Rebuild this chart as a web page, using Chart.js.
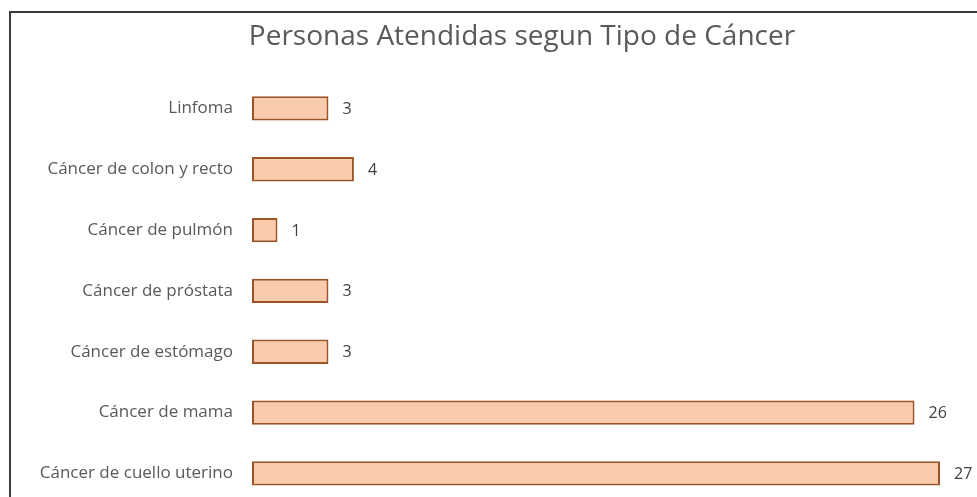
<!DOCTYPE html>
<html>
<head>
<meta charset="utf-8">
<script src="https://cdn.jsdelivr.net/npm/chart.js@4"></script>
<style>
  html, body { margin: 0; padding: 0; background: #fff; overflow: hidden; }
  #frame {
    position: absolute; left: 9px; top: 11px; width: 1000px; height: 600px;
    border-top: 2px solid #3a3a3a; border-left: 2px solid #3a3a3a;
  }
  #barChart { position: absolute; left: 0; top: 0; }
</style>
</head>
<body>
<div id="frame"></div>
<canvas id="barChart" width="977" height="525"></canvas>
<script>
var categories = [
    'Linfoma',
    'Cáncer de colon y recto',
    'Cáncer de pulmón',
    'Cáncer de próstata',
    'Cáncer de estómago',
    'Cáncer de mama',
    'Cáncer de cuello uterino'
];
var values = [3, 4, 1, 3, 3, 26, 27];
var chartTitle = 'Personas Atendidas segun Tipo de Cáncer';

// number at the end of each bar, plus the title (centred like the original, not on the plot)
const valueLabels = {
    id: 'valueLabels',
    afterDatasetsDraw: function(chart) {
        const ctx = chart.ctx;
        const meta = chart.getDatasetMeta(0);
        ctx.save();
        ctx.font = '16px "Open Sans"';
        ctx.fillStyle = '#404040';
        ctx.textAlign = 'left';
        ctx.textBaseline = 'middle';
        meta.data.forEach(function(bar, i) {
            ctx.fillText(chart.data.datasets[0].data[i], bar.x + 14, bar.y + 1);
        });
        ctx.font = '28px "Open Sans"';
        ctx.fillStyle = '#595959';
        ctx.textAlign = 'center';
        ctx.fillText(chartTitle, 522, 37);
        ctx.restore();
    }
};

var canvasBar = document.getElementById("barChart");
const configBar = {
    type: 'bar',
    data: {
        labels: categories,
        datasets: [{
            label: 'Personas',
            data: values,
            backgroundColor: '#F8CBAD',
            borderColor: '#9E5327',
            borderWidth: 2,
            borderSkipped: false,
            barPercentage: 0.8,
            categoryPercentage: 0.5
        }]
    },
    options: {
        indexAxis: 'y',
        responsive: false,
        animation: false,
        layout: {
            padding: { left: 12, right: 37, top: 78, bottom: 0 }
        },
        scales: {
            x: {
                display: false,
                min: 0,
                max: 27
            },
            y: {
                grid: { display: false },
                border: { display: false },
                afterFit: function(scale) { scale.width = 240; },
                ticks: {
                    color: '#595959',
                    font: { family: '"Open Sans"', size: 17 },
                    padding: 11
                }
            }
        },
        plugins: {
            legend: { display: false },
            tooltip: { enabled: false },
            title: { display: false }
        }
    },
    plugins: [valueLabels]
};
var BarChart = new Chart(canvasBar, configBar);
</script>
</body>
</html>
